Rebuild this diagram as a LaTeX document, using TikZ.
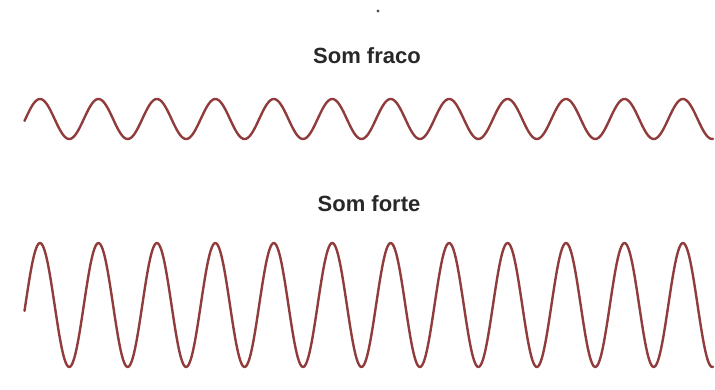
\documentclass[tikz,border=0pt]{standalone}
\usepackage{fontspec}
\setmainfont{Liberation Sans}
\definecolor{wavecol}{RGB}{145,60,60}
\definecolor{textcol}{RGB}{40,40,40}
\begin{document}
\begin{tikzpicture}[x=1pt,y=1pt,
  wave/.style={draw=wavecol,line width=2.4pt,line cap=round,line join=round},
  title/.style={text=textcol,font=\bfseries\fontsize{22}{26}\selectfont,inner sep=0pt}]
\fill[white] (0,0) rectangle (715,390);
\useasboundingbox (0,0) rectangle (715,390);
\fill[textcol!80] (378,379) circle (1.6);
\node[title] (weak) at (367,334) {Som fraco};
\node[title] (strong) at (369,186) {Som forte};
\draw[wave] plot[domain=24.5:713,samples=600,smooth] (\x,{271+20*cos((\x-40)*6.1591)});
\draw[wave] plot[domain=24.5:713,samples=600,smooth] (\x,{85+62*cos((\x-40)*6.1591)});
\end{tikzpicture}
\end{document}
